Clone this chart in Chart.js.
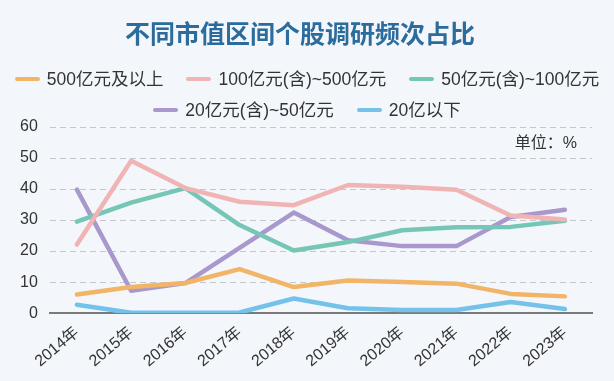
<!DOCTYPE html>
<html><head><meta charset="utf-8">
<script src="https://cdn.jsdelivr.net/npm/chart.js@4/dist/chart.umd.min.js"></script>
<style>
html,body{margin:0;padding:0;background:#f3f7fb;}
#wrap{width:614px;height:381px;position:relative;overflow:hidden;}
#c{position:absolute;left:0;top:0;}
.lg{position:absolute;left:0;width:614px;display:flex;justify-content:center;align-items:center;
  font-family:"Liberation Sans","Noto Sans CJK SC",sans-serif;font-size:17.5px;color:#333;height:22px;line-height:22px;white-space:nowrap;}
.it{display:flex;align-items:center;margin:0 11.5px;}
.mk{width:25px;height:4.5px;border-radius:2px;margin-right:7px;}
</style></head>
<body><div id="wrap"><canvas id="c" width="614" height="381"></canvas>
<div class="lg" id="row1" style="top:68px"></div>
<div class="lg" id="row2" style="top:99px"></div>
</div>
<script>
const categories = ['2014年','2015年','2016年','2017年','2018年','2019年','2020年','2021年','2022年','2023年'];
const seriesNames = ['500亿元及以上','100亿元(含)~500亿元','50亿元(含)~100亿元','20亿元(含)~50亿元','20亿以下'];
const s500 = [6.0, 8.4, 9.7, 14.2, 8.4, 10.5, 10.0, 9.5, 6.2, 5.4];
const s100 = [22.1, 49.1, 40.3, 35.9, 34.8, 41.3, 40.7, 39.8, 31.5, 30.2];
const s50 = [29.5, 35.6, 40.3, 28.4, 20.2, 22.9, 26.7, 27.7, 27.8, 29.8];
const s20 = [39.8, 7.2, 9.7, 21.0, 32.4, 23.5, 21.6, 21.6, 31.0, 33.3];
const sLow = [2.7, 0.1, 0.1, 0.2, 4.7, 1.6, 1.0, 1.0, 3.6, 1.3];
const yTicks = [0, 10, 20, 30, 40, 50, 60];
const colors = ['#f2b466', '#f1b4b4', '#76c6b7', '#a898cb', '#74c2e9'];
const allSeries = [s500, s100, s50, s20, sLow];
const FONT = '"Liberation Sans", "Noto Sans CJK SC", sans-serif';

// HTML legend built from the series names / colours
seriesNames.forEach((n, i) => {
  const row = document.getElementById(i < 3 ? 'row1' : 'row2');
  const it = document.createElement('div'); it.className = 'it';
  const mk = document.createElement('span'); mk.className = 'mk'; mk.style.background = colors[i];
  const tx = document.createElement('span'); tx.textContent = n;
  it.appendChild(mk); it.appendChild(tx); row.appendChild(it);
});

const unitPlugin = {
  id: 'unit',
  afterDraw(chart) {
    const ctx = chart.ctx;
    ctx.save();
    ctx.font = '16px ' + FONT;
    ctx.fillStyle = '#333';
    ctx.textAlign = 'right';
    ctx.textBaseline = 'middle';
    ctx.fillText('单位：%', chart.chartArea.right - 15, chart.scales.y.getPixelForValue(54.5));
    ctx.restore();
  }
};

new Chart(document.getElementById('c'), {
  type: 'line',
  data: {
    labels: categories,
    datasets: allSeries.map((d, i) => ({
      label: seriesNames[i],
      data: d,
      borderColor: colors[i],
      backgroundColor: colors[i],
      borderWidth: 4.5,
      pointRadius: 0,
      tension: 0,
      borderCapStyle: 'round',
      borderJoinStyle: 'round'
    }))
  },
  options: {
    responsive: false,
    animation: false,
    layout: { padding: { left: 8, right: 22, top: 0, bottom: 8 } },
    plugins: {
      title: {
        display: true,
        text: '不同市值区间个股调研频次占比',
        color: '#2b6c9c',
        font: { family: '"Noto Sans CJK SC", sans-serif', size: 25, weight: 'bold' },
        padding: { top: 18, bottom: 79 }
      },
      legend: { display: false },
      tooltip: { enabled: false }
    },
    scales: {
      x: {
        offset: true,
        grid: { display: false },
        border: { display: true, color: '#7a7a7a', width: 2 },
        ticks: {
          color: '#333',
          font: { family: FONT, size: 16 },
          maxRotation: 40, minRotation: 40,
          padding: 2
        }
      },
      y: {
        min: 0, max: 60,
        afterBuildTicks(axis) { axis.ticks = yTicks.map(v => ({ value: v })); },
        grid: {
          color: (c) => c.tick && c.tick.value === 0 ? 'rgba(0,0,0,0)' : '#c4c8cc',
          lineWidth: 1,
          drawTicks: false
        },
        border: { display: false, dash: [6, 4] },
        ticks: {
          color: '#333',
          font: { family: FONT, size: 16 },
          padding: 12
        }
      }
    }
  },
  plugins: [unitPlugin]
});
</script></body></html>
